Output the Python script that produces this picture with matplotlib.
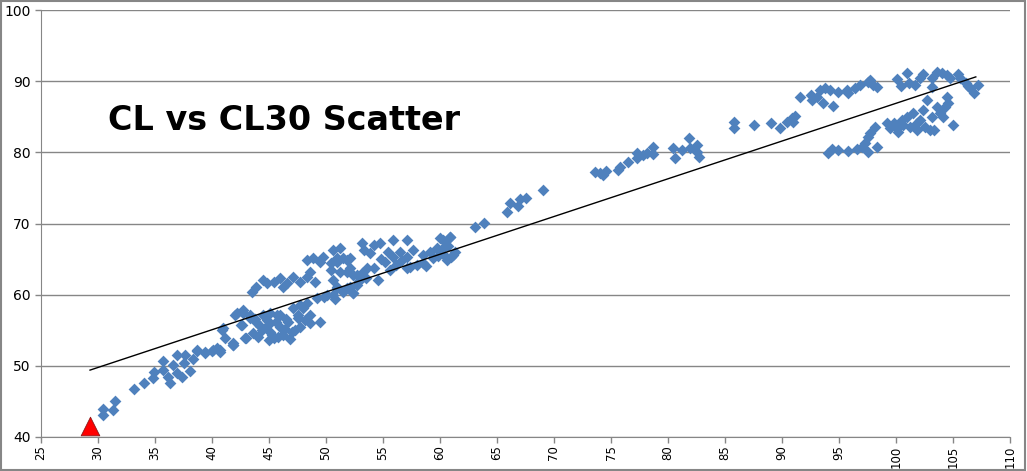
import numpy as np
import matplotlib.pyplot as plt
from matplotlib.patches import Rectangle
from matplotlib import font_manager

# CL30 (x) vs CL (y)
cl30 = [30.4, 30.4, 31.3, 31.5, 33.2, 34.0, 34.8, 34.9, 35.7, 35.7, 36.1, 36.3, 36.6, 36.9,
        36.9, 37.4, 37.6, 37.5, 38.1, 38.3, 38.7, 39.4, 40.0, 40.4, 40.7, 40.9, 41.1, 41.8,
        43.0, 42.0, 42.7, 43.3, 42.6, 41.0, 41.8, 40.7, 40.1, 38.7, 39.4,
        43.5, 43.9, 44.5, 44.8, 45.4, 46.0, 46.2, 46.6, 47.1, 47.7, 48.3, 48.6, 49.0, 48.3,
        48.9, 49.5, 49.7, 50.4, 50.4, 51.0, 51.2, 51.8, 52.1, 52.7, 50.6, 51.0, 51.8, 52.4,
        53.2, 53.6, 50.1, 49.2, 48.3, 47.7, 47.1, 48.0,
        42.2, 42.7, 43.3, 42.5, 43.9, 44.5, 44.8, 45.1, 45.7, 44.4, 43.6, 42.9, 41.8, 45.1,
        45.4, 46.0, 46.2, 46.7, 47.0, 47.5, 47.7, 48.2, 48.6, 49.5, 48.6, 47.5, 46.0, 44.0,
        44.9, 45.6, 46.4, 45.3, 46.8, 44.2, 45.8, 47.3, 43.8, 46.5, 45.0,
        53.2, 53.3, 54.2, 54.7, 53.9, 55.9, 57.1, 55.4, 55.9, 56.5, 56.7, 57.1, 57.6, 57.4,
        58.0, 57.1, 58.5, 58.5, 59.1, 59.4, 60.0, 60.0, 60.9, 60.6, 61.1, 60.3, 59.7,
        50.6, 51.2, 51.5, 51.0, 52.1, 51.8, 52.4, 53.2, 54.2, 52.7, 52.1, 51.5, 52.4, 50.6,
        51.0, 60.2, 60.9, 61.0, 60.6, 60.3, 61.3, 55.2, 56.1, 58.8, 59.8, 60.7, 54.8, 49.8,
        50.8, 52.9, 53.5, 54.6, 55.6,
        63.1, 63.9, 65.9, 66.1, 66.8, 67.0, 67.5, 69.0,
        73.6, 74.0, 74.3, 74.6, 75.6, 75.8, 76.5, 77.3, 77.3, 77.8, 78.7, 78.7, 78.2, 80.4,
        80.6, 81.2, 81.8, 81.9, 82.5, 82.5, 82.7,
        85.8, 85.8, 87.5, 89.0, 89.8, 90.4, 90.9, 91.1, 91.0,
        91.6, 92.5, 92.6, 93.1, 93.3, 93.6, 93.8, 94.2, 94.5, 94.9, 95.7, 95.8, 96.4, 96.8,
        97.5, 97.7, 98.0, 98.3, 100.1, 100.4, 101.0, 101.1, 101.7, 102.1, 102.4, 103.2,
        103.2, 103.6, 104.0, 104.5, 104.7, 105.4, 105.6, 106.1, 106.5, 106.8, 107.2, 106.3,
        94.0, 94.4, 94.9, 95.8, 96.6, 97.0, 97.3, 97.5, 97.5, 97.7, 98.2, 98.3, 99.2, 99.5,
        99.8, 100.1, 100.2, 100.5, 100.6, 101.0, 101.2, 101.5, 101.8, 102.1, 102.4, 102.7,
        102.5, 103.2, 103.3, 103.6, 103.9, 104.1, 104.5, 104.3, 104.6, 105.0, 103.0, 101.8]

cl = [43.1, 43.9, 43.8, 45.1, 46.7, 47.6, 48.3, 49.1, 50.7, 49.4, 48.4, 47.6, 50.1, 51.5,
      49.0, 48.4, 51.5, 50.4, 49.3, 51.0, 52.1, 51.8, 52.1, 52.5, 52.0, 55.0, 53.9, 52.9,
      53.9, 57.1, 57.4, 56.7, 55.7, 55.3, 53.2, 52.2, 52.2, 52.2, 51.9,
      60.4, 61.1, 62.1, 61.6, 61.8, 62.3, 61.1, 61.6, 62.5, 61.8, 62.5, 63.2, 61.8, 64.9,
      65.2, 64.6, 65.3, 64.4, 63.5, 65.2, 63.2, 64.9, 63.8, 62.8, 62.1, 60.9, 60.9, 60.2,
      62.8, 63.8, 60.0, 59.5, 58.8, 58.5, 58.1, 58.1,
      57.4, 57.8, 57.1, 55.7, 56.1, 57.1, 56.4, 57.4, 57.1, 55.0, 54.6, 53.9, 52.9, 54.8,
      53.9, 55.5, 54.3, 56.1, 54.8, 56.7, 55.5, 56.4, 56.0, 56.1, 57.1, 57.1, 57.1, 54.0,
      55.8, 56.2, 55.2, 54.4, 53.8, 55.6, 54.1, 55.0, 56.6, 56.6, 53.6,
      67.3, 66.3, 67.0, 67.3, 65.9, 67.7, 67.7, 66.0, 65.3, 66.0, 64.9, 65.3, 66.3, 63.9,
      64.2, 63.7, 64.5, 65.6, 66.0, 65.2, 66.0, 68.0, 68.1, 65.2, 65.6, 66.6, 66.6,
      66.3, 66.6, 65.2, 64.6, 65.2, 63.2, 62.8, 63.0, 63.7, 61.4, 61.1, 60.4, 60.2, 60.0,
      61.1, 65.8, 68.1, 65.3, 64.9, 67.7, 66.0, 64.6, 64.2, 64.0, 65.5, 66.9, 65.0, 59.7,
      59.4, 61.9, 62.3, 62.0, 63.4,
      69.5, 70.1, 71.6, 72.9, 72.5, 73.4, 73.6, 74.7,
      77.2, 77.1, 76.8, 77.4, 77.5, 77.9, 78.6, 79.2, 79.9, 79.6, 80.8, 79.8, 79.9, 80.6,
      79.2, 80.3, 82.0, 80.6, 80.0, 81.0, 79.3,
      83.4, 84.2, 83.8, 84.1, 83.4, 84.3, 84.8, 85.1, 84.3,
      87.8, 88.1, 87.4, 87.8, 88.8, 86.9, 89.0, 88.8, 86.5, 88.5, 88.8, 88.3, 89.0, 89.4,
      89.9, 90.2, 89.4, 89.2, 90.3, 89.3, 91.2, 89.8, 89.5, 90.4, 91.0, 90.4,
      89.2, 91.3, 91.2, 90.9, 90.4, 91.0, 90.4, 89.7, 89.0, 88.3, 89.5, 89.3,
      79.9, 80.5, 80.3, 80.2, 80.5, 80.8, 81.3, 80.0, 82.2, 82.7, 83.6, 80.8, 84.1, 83.4,
      84.1, 83.4, 82.9, 84.5, 83.8, 85.0, 83.6, 85.5, 83.1, 84.5, 85.9, 87.3,
      83.6, 85.0, 83.1, 86.4, 85.5, 85.0, 87.8, 86.4, 87.0, 83.8, 83.1, 84.1]

# linear trendline as drawn in the chart
trend_x = [29.3, 107.0]
trend_y = [49.4, 90.6]

# red marker
flag_x = [29.3]
flag_y = [41.5]

# narrow bold font for the title if it is around, else DejaVu
names = set(f.name for f in font_manager.fontManager.ttflist)
if 'Liberation Sans Narrow' in names:
    title_font, title_size = 'Liberation Sans Narrow', 34
else:
    title_font, title_size = 'DejaVu Sans', 24

fig = plt.figure(figsize=(10.27, 4.71), dpi=100)
ax = fig.add_axes([41 / 1027, 34 / 471, 969 / 1027, 427 / 471])

ax.scatter(cl30, cl, marker='D', s=36, color='#4F81BD', linewidths=0, zorder=3)
ax.plot(trend_x, trend_y, color='black', lw=1, zorder=4)
ax.scatter(flag_x, flag_y, marker='^', s=180, color='#FF0000',
           edgecolors='#8B1A1A', linewidths=0.6, zorder=5)

ax.set_xlim(25, 110)
ax.set_ylim(40, 100)
ax.set_xticks(np.arange(25, 111, 5))
ax.set_yticks(np.arange(40, 101, 10))
ax.tick_params(axis='x', labelrotation=90, labelsize=8.5, pad=2)
ax.tick_params(axis='y', labelsize=10)
ax.tick_params(length=4, width=1, color='#868686', direction='out')
ax.yaxis.grid(True, color='#868686', lw=1)
ax.set_axisbelow(True)
for s in ['top', 'right']:
    ax.spines[s].set_visible(False)
for s in ['left', 'bottom']:
    ax.spines[s].set_color('#868686')

fig.text(108 / 1027, 1 - 121 / 471, 'CL vs CL30 Scatter', fontsize=title_size,
         family=[title_font, 'DejaVu Sans'], fontweight='bold', va='center', ha='left')

fig.patches.append(Rectangle((0.001, 0.002), 0.997, 0.996, transform=fig.transFigure,
                             fill=False, edgecolor='#868686', lw=1.5))

fig.savefig('out.png', dpi=100)
